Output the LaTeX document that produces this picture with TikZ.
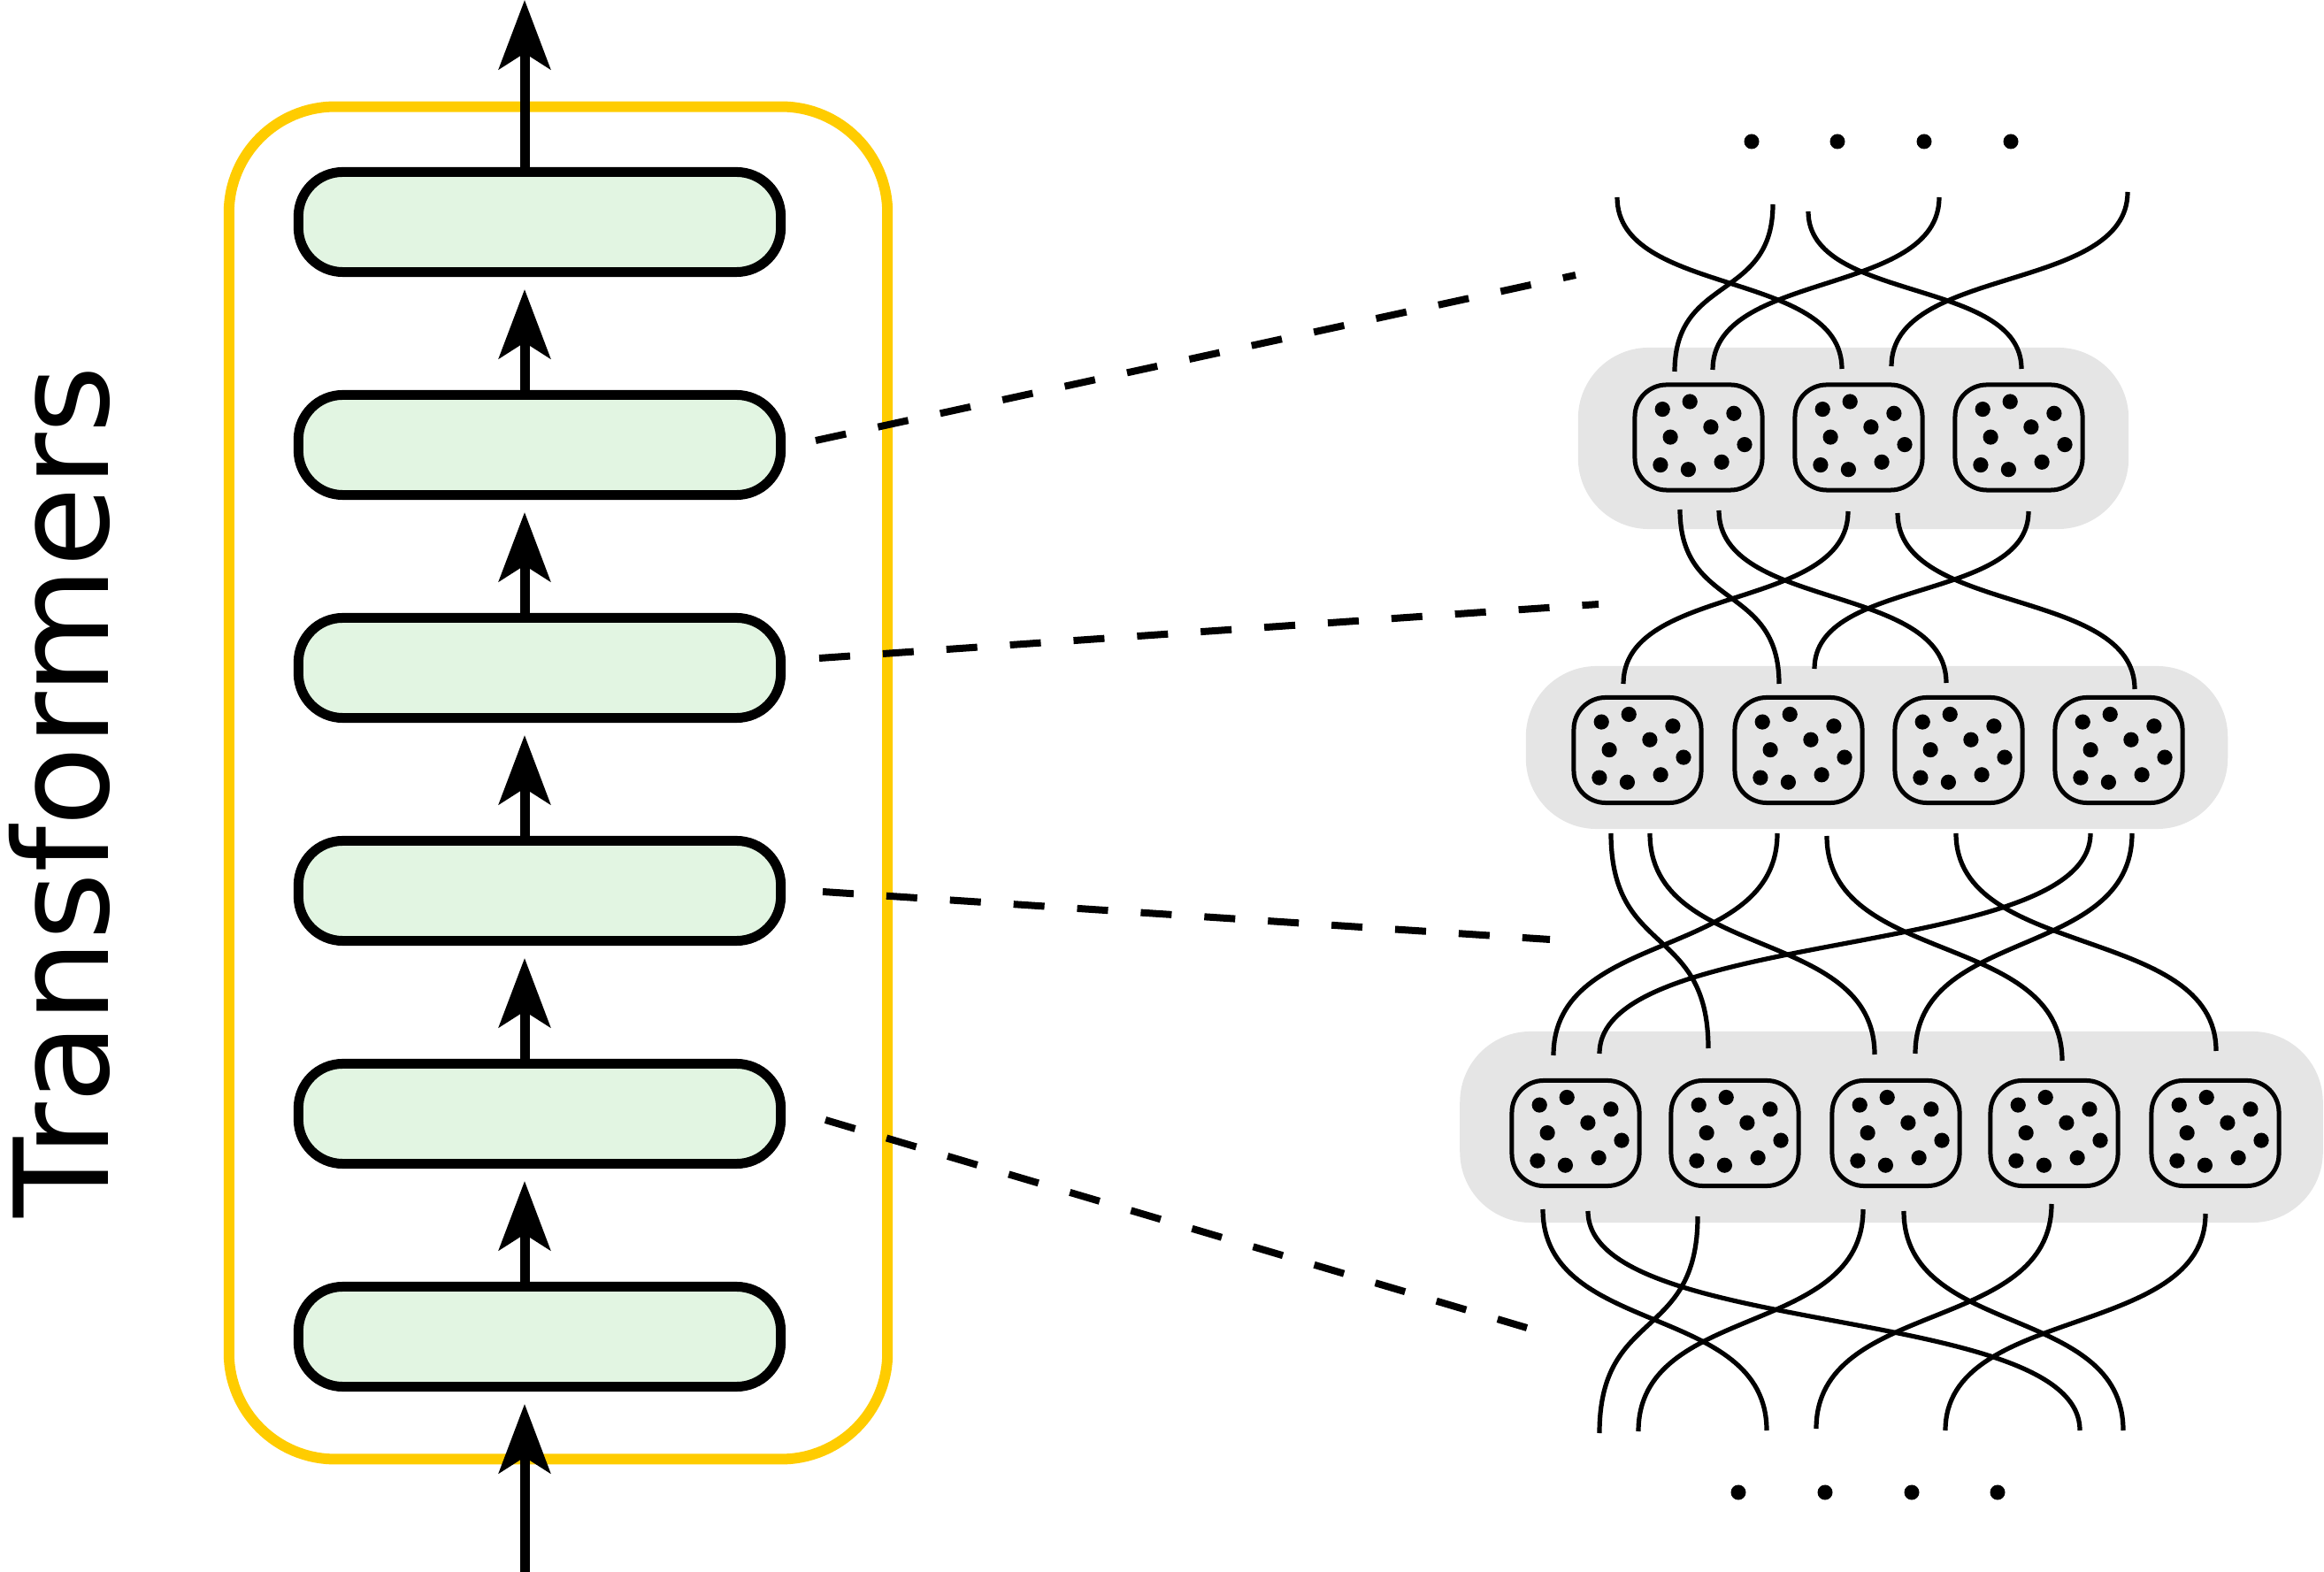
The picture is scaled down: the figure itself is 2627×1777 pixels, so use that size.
\documentclass[tikz,border=0pt]{standalone}
\usepackage{fontspec}
\setmainfont{DejaVu Sans}
\usetikzlibrary{arrows.meta,calc}
\definecolor{ygold}{HTML}{FFCC00}
\definecolor{lgreen}{HTML}{E2F5E2}
\definecolor{bggrey}{HTML}{E5E5E5}
\begin{document}
\begin{tikzpicture}[x=0.01cm,y=-0.01cm,
  frame/.style={draw=ygold, line width=0.12cm, rounded corners=1.2cm, minimum width=7.44cm, minimum height=15.28cm, inner sep=0pt},
  layerbox/.style={draw=black, line width=0.11cm, fill=lgreen, rounded corners=0.5cm, minimum width=5.45cm, minimum height=1.13cm, inner sep=0pt},
  flowarrow/.style={line width=0.11cm, -{Stealth[length=0.78cm,width=0.58cm,inset=0.18cm]}},
  linkdash/.style={line width=0.08cm, dash pattern=on 0.35cm off 0.37cm},
  groupbg/.style={fill=bggrey, rounded corners=0.8cm, inner sep=0pt},
  cellbox/.style={draw=black, line width=0.05cm, rounded corners=0.36cm, minimum width=1.44cm, minimum height=1.19cm, inner sep=0pt},
  wire/.style={line width=0.052cm},
  title/.style={rotate=90, anchor=base, font=\fontsize{42}{50}\selectfont}]
\useasboundingbox (0,0) rectangle (2627,1777);

% ---------- left: transformer stack ----------
\node[frame] (fr) at (631,885) {};
\foreach \i in {1,...,6}{
  \node[layerbox] (b\i) at (610,{251+252*(\i-1)}) {};
}
\coordinate (outTop) at (593,0);
\coordinate (inBot) at (593,1777);
\draw[flowarrow] ($(b1.north)+(-17,0)$) -- (outTop);
\foreach \i/\j in {1/2,2/3,3/4,4/5,5/6}{
  \draw[flowarrow] ($(b\j.north)+(-17,0)$) -- ($(b\i.south)+(-17,14)$);
}
\draw[flowarrow] (inBot) -- ($(b6.south)+(-17,14)$);

\node[title] (ttl) at (122,895) {Transformers};

% ---------- right: grouped cells ----------
\node[groupbg, minimum width=6.22cm, minimum height=2.05cm] (rowA) at (2095,495.5) {};
\node[groupbg, minimum width=7.93cm, minimum height=1.84cm] (rowB) at (2121.5,845) {};
\node[groupbg, minimum width=9.75cm, minimum height=2.16cm] (rowC) at (2138,1274) {};

% wires
\foreach \xa/\ya/\xb/\yb in {
  1828/223/2082/417, 2004/231/1893/420, 2044/239/2285/417, 2192/223/1936/418, 2405/217/2138/414,
  1899/576/2011/773, 1943/577/2200/772, 2089/578/1835/773, 2145/580/2413/779, 2293/578/2051/756,
  1821/942/1931/1185, 1865/942/2119/1192, 2009/942/1756/1193, 2065/945/2331/1199, 2211/942/2505/1188, 2363/942/1808/1191, 2410/942/2165/1191,
  1744/1367/1997/1617, 1795/1369/2351/1617, 1919/1375/1808/1620, 2106/1367/1852/1618, 2152/1369/2400/1617, 2319/1361/2053/1615, 2493/1372/2199/1617}{
  \draw[wire] (\xa,\ya) .. controls (\xa,{\ya+0.58*(\yb-\ya)}) and (\xb,{\yb-0.58*(\yb-\ya)}) .. (\xb,\yb);
}

% cells with dots
\foreach \n/\cx/\cy in {a1/1920/494.5, a2/2101/494.5, a3/2282/494.5,
  c1/1851/848, c2/2033/848, c3/2214/848, c4/2395/848,
  e1/1781/1281, e2/1961/1281, e3/2143/1281, e4/2322/1281, e5/2504/1281}{
  \node[cellbox] (\n) at (\cx,\cy) {};
  \foreach \dx/\dy in {-40.8/-31.9, -9.8/-40.5, 39.9/-27.2, 13.9/-11.8, -31.9/-0.4, 52/8.1, -43.1/31.1, -11.6/36.2, 26.1/27.8}{
    \fill ($(\n)+(\dx,\dy)$) circle[radius=0.086cm];
  }
}

% ellipsis dots
\foreach \x in {1980,2077,2175,2273}{ \fill (\x,160) circle[radius=0.085cm]; }
\foreach \x in {1965,2063,2161,2258}{ \fill (\x,1687) circle[radius=0.085cm]; }

% dashed links
\coordinate (d1a) at (922,498);  \coordinate (d1b) at (1781,311);
\coordinate (d2a) at (926,744);  \coordinate (d2b) at (1807,683);
\coordinate (d3a) at (930,1008); \coordinate (d3b) at (1752,1062);
\coordinate (d4a) at (933,1266); \coordinate (d4b) at (1726,1501);
\draw[linkdash] (d1a) -- (d1b);
\draw[linkdash] (d2a) -- (d2b);
\draw[linkdash] (d3a) -- (d3b);
\draw[linkdash] (d4a) -- (d4b);
\end{tikzpicture}
\end{document}
